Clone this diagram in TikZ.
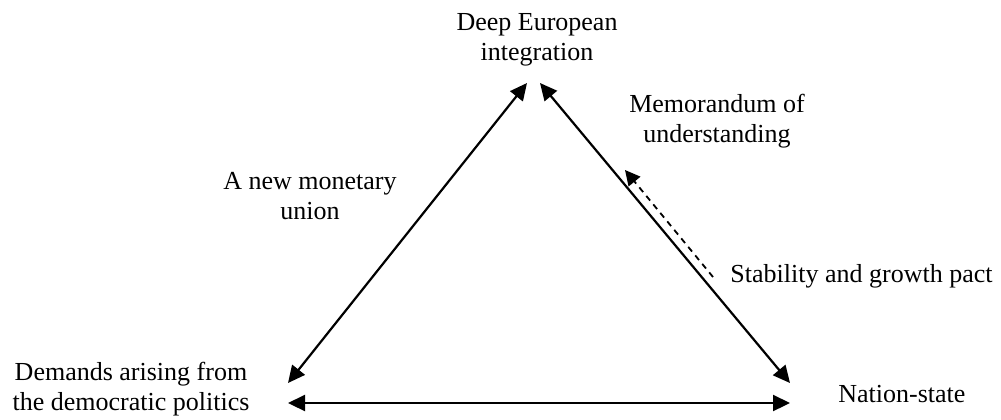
\documentclass[tikz,border=0pt]{standalone}
\usepackage{fontspec}
\setmainfont{Liberation Serif}
\usetikzlibrary{arrows.meta}
\begin{document}
\begin{tikzpicture}[x=0.5pt,y=-0.5pt]
\tikzstyle{every node}=[align=center,inner sep=0pt,font=\fontsize{13}{15}\selectfont]
\tikzstyle{link}=[{Triangle[length=8.5pt,width=8pt]}-{Triangle[length=8.5pt,width=8pt]},line width=1.1pt]
\tikzstyle{pact}=[-{Triangle[length=7.5pt,width=7.5pt]},line width=0.9pt,dash pattern=on 3pt off 2.5pt]
\useasboundingbox (0,0) rectangle (1001,419);
% corners
\node (deep) at (537,40) {Deep European\\integration};
\node (demands) at (131,389) {Demands arising from\\the democratic politics};
\node[anchor=base west] (nation) at (838,402) {Nation-state};
% side labels
\node (union) at (310,196) {A new monetary\\union};
\node (memo) at (717,121) {Memorandum of\\understanding};
\node[anchor=base west] (sgp) at (730,282) {Stability and growth pact};
% arrow ends
\coordinate (deep-l) at (527,83);
\coordinate (deep-r) at (540,83);
\coordinate (demands-u) at (288,383);
\coordinate (demands-r) at (288,403);
\coordinate (nation-u) at (790,383);
\coordinate (nation-l) at (790,403);
\coordinate (sgp-s) at (713,277);
\coordinate (sgp-e) at (625,170);
\draw[link] (demands-u) -- (deep-l);
\draw[link] (deep-r) -- (nation-u);
\draw[link] (demands-r) -- (nation-l);
\draw[pact] (sgp-s) -- (sgp-e);
\end{tikzpicture}
\end{document}
